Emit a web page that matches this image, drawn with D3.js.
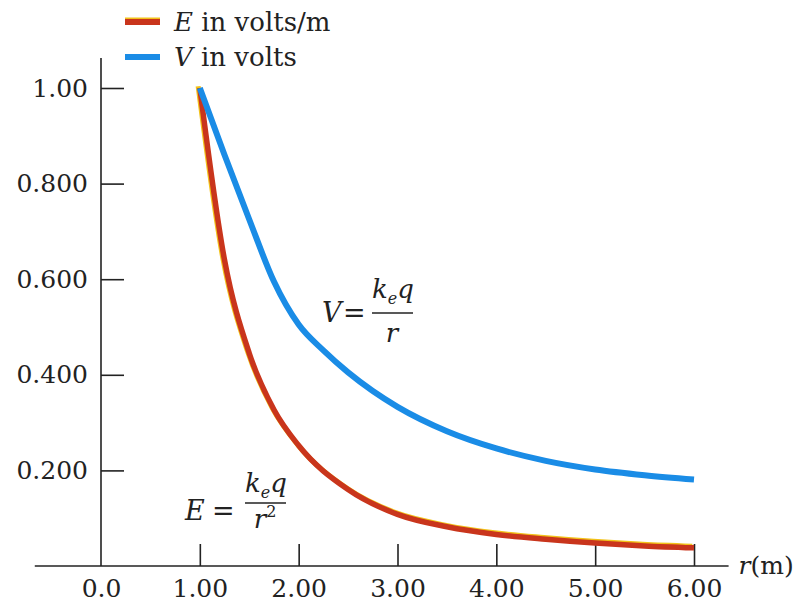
<!DOCTYPE html>
<html lang="en">
<head>
<meta charset="UTF-8">
<title>E and V versus r</title>
<script src="https://cdn.jsdelivr.net/npm/d3@7/dist/d3.min.js"></script>
<style>
  body { margin: 0; background: #fff; }
  svg { display: block; font-family: "DejaVu Serif", "Liberation Serif", serif; }
</style>
</head>
<body>
<script>
// values
const rE = [1, 1.25, 1.5, 1.75, 2, 2.5, 3, 3.5, 4, 4.5, 5, 5.5, 6];
const eValues = [1.0, 0.64, 0.445, 0.327, 0.252, 0.16, 0.108, 0.082, 0.066, 0.056, 0.048, 0.042, 0.038];
const rV = [1, 1.25, 1.5, 1.75, 2, 2.25, 2.5, 2.75, 3, 3.5, 4, 4.5, 5, 5.5, 6];
const vValues = [1.0, 0.86, 0.725, 0.595, 0.505, 0.451, 0.405, 0.366, 0.333, 0.282, 0.246, 0.22, 0.202, 0.19, 0.181];
const xTicks = [0, 1, 2, 3, 4, 5, 6];
const xTickLabels = ["0.0", "1.00", "2.00", "3.00", "4.00", "5.00", "6.00"];
const yTicks = [0.2, 0.4, 0.6, 0.8, 1.0];
const yTickLabels = ["0.200", "0.400", "0.600", "0.800", "1.00"];

const width = 804, height = 603;
const red = "#c9351c", yellow = "#f2c21a", blue = "#1a8ce6", ink = "#222";

const svg = d3.select("body").append("svg")
    .attr("width", width).attr("height", height);

const x = d3.scaleLinear().domain([0, 6]).range([101, 694]);
const y = d3.scaleLinear().domain([0, 1]).range([566, 88]);

// axis lines
svg.append("line")
    .attr("x1", x(-0.67)).attr("x2", x(6.35))
    .attr("y1", y(0)).attr("y2", y(0))
    .attr("stroke", ink).attr("stroke-width", 1.6);
svg.append("line")
    .attr("x1", x(0)).attr("x2", x(0))
    .attr("y1", y(0)).attr("y2", y(1.063))
    .attr("stroke", ink).attr("stroke-width", 1.6);

const xAxis = svg.append("g")
    .attr("transform", `translate(0,${y(0)})`)
    .call(d3.axisBottom(x).tickValues(xTicks)
        .tickFormat((d, i) => xTickLabels[i])
        .tickSize(-22).tickPadding(13))
    .attr("font-family", null).attr("font-size", 25);
xAxis.select(".domain").remove();
xAxis.selectAll(".tick line")
    .attr("stroke", ink).attr("stroke-width", 1.6)
    .filter(d => d === 0).remove();
xAxis.selectAll("text").attr("fill", ink);

const yAxis = svg.append("g")
    .attr("transform", `translate(${x(0)},0)`)
    .call(d3.axisLeft(y).tickValues(yTicks)
        .tickFormat((d, i) => yTickLabels[i])
        .tickSize(-23).tickPadding(13))
    .attr("font-family", null).attr("font-size", 25);
yAxis.select(".domain").remove();
yAxis.selectAll(".tick line").attr("stroke", ink).attr("stroke-width", 1.6);
yAxis.selectAll("text").attr("fill", ink);

// axis title r(m)
const rt = svg.append("text")
    .attr("x", x(6.35) + 10).attr("y", y(0) + 8)
    .attr("font-size", 25).attr("fill", ink);
rt.append("tspan").attr("font-style", "italic").text("r");
rt.append("tspan").text("(m)");

// curves
const line = d3.line().curve(d3.curveMonotoneX);
const ePts = rE.map((r, i) => [x(r), y(eValues[i])]);
const vPts = rV.map((r, i) => [x(r), y(vValues[i])]);

svg.append("path")
    .attr("d", line(ePts))
    .attr("transform", "translate(-1.7,-1.7)")
    .attr("fill", "none").attr("stroke", yellow).attr("stroke-width", 5);
svg.append("path")
    .attr("d", line(ePts))
    .attr("fill", "none").attr("stroke", red).attr("stroke-width", 5.5);
svg.append("path")
    .attr("d", line(vPts))
    .attr("fill", "none").attr("stroke", blue).attr("stroke-width", 6);

// legend
const legend = [
  { sym: "E", rest: " in volts/m", color: red, edge: yellow },
  { sym: "V", rest: " in volts", color: blue, edge: null }
];
const lg = svg.append("g").selectAll("g").data(legend).join("g")
    .attr("transform", (d, i) => `translate(125,${22 + i * 35})`);
lg.filter(d => d.edge).append("line")
    .attr("x1", 0).attr("x2", 35).attr("y1", -1.5).attr("y2", -1.5)
    .attr("stroke", d => d.edge).attr("stroke-width", 6);
lg.append("line")
    .attr("x1", 0).attr("x2", 35).attr("y1", 0).attr("y2", 0)
    .attr("stroke", d => d.color).attr("stroke-width", 6);
const lt = lg.append("text")
    .attr("x", 49).attr("y", 9)
    .attr("font-size", 26).attr("fill", ink);
lt.append("tspan").attr("font-style", "italic").text(d => d.sym);
lt.append("tspan").text(d => d.rest);

// formula labels
function formula(ox, oy, lhs, den, sup) {
  const isE = lhs === "E";
  const g = svg.append("g").attr("transform", `translate(${ox},${oy})`)
      .attr("fill", ink);
  g.append("text").attr("x", 0).attr("y", 0)
      .attr("font-size", 27).attr("font-style", "italic").text(lhs);
  g.append("text").attr("x", isE ? 27 : 21).attr("y", 0)
      .attr("font-size", 27).text("=");
  const fx = isE ? 60 : 50;
  const num = g.append("text").attr("x", fx + 21).attr("y", isE ? -28 : -24)
      .attr("text-anchor", "middle").attr("font-size", 26).attr("font-style", "italic");
  num.append("tspan").text("k");
  num.append("tspan").attr("font-size", 16).attr("dy", 6).text("e");
  num.append("tspan").attr("dy", -6).text("q");
  g.append("line").attr("x1", fx).attr("x2", fx + 41)
      .attr("y1", isE ? -17 : -9).attr("y2", isE ? -17 : -9)
      .attr("stroke", ink).attr("stroke-width", 1.5);
  const d = g.append("text").attr("x", fx + 20).attr("y", isE ? 8 : 20)
      .attr("text-anchor", "middle").attr("font-size", 26).attr("font-style", "italic");
  d.append("tspan").text(den);
  if (sup) d.append("tspan").attr("font-style", "normal").attr("font-size", 16)
      .attr("dy", -11).text(sup);
}
formula(185, 520, "E", "r", "2");
formula(322, 322, "V", "r", null);
</script>
</body>
</html>
